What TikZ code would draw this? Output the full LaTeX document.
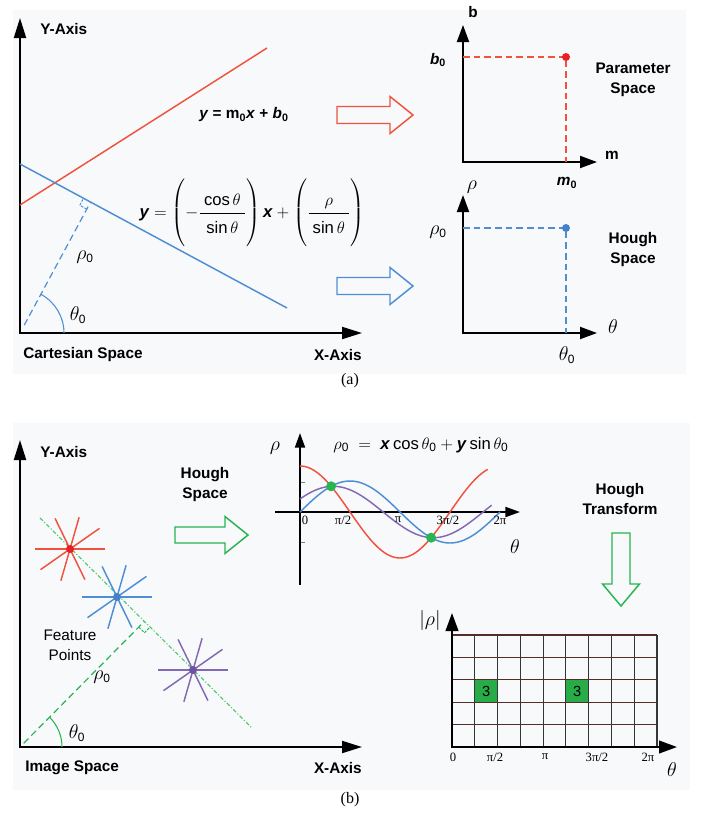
\RequirePackage{fix-cm}
\documentclass[tikz,border=0pt]{standalone}
\usepackage{amsmath}
\usepackage{fontspec}
\setmainfont{Liberation Sans}
\newfontfamily\serifont{Liberation Serif}
\usetikzlibrary{arrows.meta,calc}
\definecolor{cred}{RGB}{240,82,62}
\definecolor{cdotred}{RGB}{232,32,36}
\definecolor{cblue}{RGB}{78,142,212}
\definecolor{cdotblue}{RGB}{70,128,200}
\definecolor{cgreen}{RGB}{40,180,80}
\definecolor{cdash}{RGB}{70,200,100}
\definecolor{cpurple}{RGB}{130,105,180}
\definecolor{cdotpurple}{RGB}{112,82,160}
\definecolor{panel}{RGB}{248,249,251}
\definecolor{cellgreen}{RGB}{40,172,72}
\definecolor{gridh}{RGB}{85,45,40}
\definecolor{gridv}{RGB}{50,55,55}
\newcommand\zs{\mbox{\fontsize{9}{10}\selectfont 0}}
\newcommand\fr[2]{\dfrac{\hspace{3pt}\vrule height 0pt depth 3pt width 0pt #1\hspace{3pt}}{\hspace{3pt}\vrule height 14pt depth 0pt width 0pt #2\hspace{3pt}}}
\newcommand\featstar[3]{%
  \foreach \a/\l in {0/35,35/36,74/33,116/34}
    \draw[#2, line width=1.1pt] ($(#1)+(-\a:\l)$) -- ($(#1)+(180-\a:\l)$);
  \fill[#3] (#1) circle[radius=4];}
\begin{document}
\begin{tikzpicture}[x=0.75pt,y=-0.75pt,
  axes/.style args={#1/#2}{line width=1.5pt,line join=miter,
     {Triangle[length=#1,width=#2]}-{Triangle[length=#1,width=#2]}},
  lbl/.style={font=\fontsize{11.5}{14}\selectfont\bfseries, inner sep=0pt, align=center},
  reg/.style={font=\fontsize{11.5}{14}\selectfont, inner sep=0pt, align=center},
  greek/.style={font=\fontsize{15}{17}\selectfont, inner sep=0pt},
  tick/.style={font=\serifont\fontsize{9.5}{11}\selectfont, inner sep=0pt},
  curve/.style={line width=1.1pt},
  hollow/.style={line width=1.1pt, line join=miter},
  dsh/.style={line width=0.9pt, dash pattern=on 5pt off 3pt}]
\useasboundingbox (0,0) rectangle (701,825);
\fill[white] (0,0) rectangle (701,825);
% panels
\fill[panel] (13,10) rectangle (686,374);
\fill[panel] (13,423) rectangle (690,790);

% ================= (a) Cartesian space =================
\coordinate (O1) at (20,333);
\coordinate (Y1) at (20,18);
\coordinate (X1) at (362,333);
\draw[axes=15pt/9pt] (Y1) -- (O1) -- (X1);
\node[lbl, anchor=west] (ya1) at (40,29) {Y-Axis};
\node[lbl, anchor=west] (cs) at (23,355) {Cartesian Space};
\node[lbl, anchor=east] (xa1) at (362,355) {X-Axis};
\coordinate (R1) at (20,205);
\coordinate (R2) at (267,48);
\draw[cred, curve] (R1) -- (R2);
\coordinate (B1) at (20,164);
\coordinate (B2) at (287,308);
\draw[cblue, curve] (B1) -- (B2);
\coordinate (F1) at ($(B1)!(O1)!(B2)$);
\draw[cblue, dsh] ($(O1)!0.06!(F1)$) -- (F1);
\coordinate (ra1) at ($(F1)!6pt!(O1)$);
\coordinate (ra2) at ($(F1)!6pt!(B1)$);
\coordinate (ra3) at ($(ra1)+(ra2)-(F1)$);
\draw[cblue, line width=0.7pt, dash pattern=on 2pt off 1pt] (ra1) -- (ra3) -- (ra2);
\draw[cblue, line width=0.8pt] let \p1=($(F1)-(O1)$), \n1={atan2(\y1,\x1)} in
  ($(O1)+(44,0)$) arc[start angle=0, end angle=-\n1, radius=44];
\node[greek] (th1) at (78,315) {$\theta_{\zs}$};
\node[greek] (rh1) at (85,257) {$\rho_{\zs}$};
\node[font=\fontsize{11.5}{14}\selectfont\bfseries, inner sep=0pt] (eqa) at (244,115)
  {\textit{y} = m\textsubscript{0}\textit{x} + \textit{b}\textsubscript{0}};
\node[font=\fontsize{12.5}{14}\selectfont, inner sep=0pt] (eqb) at (252,213)
  {$\textbf{\textit{y}} = \left(\vrule height 29pt depth 23pt width 0pt -\fr{\mbox{cos}\,\theta}{\mbox{sin}\,\theta}\right)\textbf{\textit{x}}+\left(\vrule height 29pt depth 23pt width 0pt \fr{\rho}{\mbox{sin}\,\theta}\right)$};

% hollow arrows (a)
\draw[cred, hollow] (337,115) ++(0,-8.5) -- ++(53,0) -- ++(0,-10) -- ++(23,18.5)
  -- ++(-23,18.5) -- ++(0,-10) -- ++(-53,0) -- cycle;
\draw[cblue, hollow] (337,286) ++(0,-8.5) -- ++(53,0) -- ++(0,-10) -- ++(23,18.5)
  -- ++(-23,18.5) -- ++(0,-10) -- ++(-53,0) -- cycle;

% Parameter space
\coordinate (O2) at (463,162);
\draw[axes=12.75pt/9pt] (463,25) -- (O2) -- (597,162);
\coordinate (P2) at (566,57);
\draw[cred, dsh] (463,57) -- (P2) -- (566,162);
\fill[cdotred] (P2) circle[radius=4];
\node[lbl] (bl) at (473,12) {b};
\node[lbl] (b0) at (438,60) {\textit{b}\textsubscript{0}};
\node[lbl] (ml) at (612,155) {m};
\node[lbl] (m0) at (567,183) {\textit{m}\textsubscript{0}};
\node[lbl] (ps) at (633,80) {Parameter\\[1pt]Space};

% Hough space (a)
\coordinate (O4) at (463,333);
\draw[axes=12.75pt/9pt] (463,195) -- (O4) -- (597,333);
\coordinate (P4) at (566,228);
\draw[cblue, dsh] (463,228) -- (P4) -- (566,333);
\fill[cdotblue] (P4) circle[radius=4];
\node[greek] (rl) at (472,187) {$\rho$};
\node[greek] (r0) at (438,232) {$\rho_{\zs}$};
\node[greek] (tl) at (613,327) {$\theta$};
\node[greek] (t0) at (567,355) {$\theta_{\zs}$};
\node[lbl] (hs) at (633,250) {Hough\\[1pt]Space};

\node[font=\serifont\fontsize{12}{14}\selectfont, inner sep=0pt] (capa) at (350,381) {(a)};

% ================= (b) Image space =================
\coordinate (O5) at (20,747);
\draw[axes=15pt/9pt] (20,440) -- (O5) -- (362,747);
\node[lbl, anchor=west] (ya2) at (40,452) {Y-Axis};
\node[lbl, anchor=west] (is) at (25,768) {Image Space};
\node[lbl, anchor=east] (xa2) at (362,768) {X-Axis};
\coordinate (L1) at (40,518);
\coordinate (L2) at (252,728);
\draw[cdash, line width=0.8pt, dash pattern=on 3pt off 1.5pt on 0.8pt off 1.5pt] (L1) -- (L2);
\coordinate (F5) at ($(L1)!(O5)!(L2)$);
\draw[cgreen, dsh] ($(O5)!0.03!(F5)$) -- (F5);
\coordinate (rb1) at ($(F5)!6pt!(O5)$);
\coordinate (rb2) at ($(F5)!6pt!(L2)$);
\coordinate (rb3) at ($(rb1)+(rb2)-(F5)$);
\draw[cgreen, line width=0.7pt, dash pattern=on 2pt off 1pt] (rb1) -- (rb3) -- (rb2);
\draw[cgreen, line width=0.8pt] let \p1=($(F5)-(O5)$), \n1={atan2(\y1,\x1)} in
  ($(O5)+(42,0)$) arc[start angle=0, end angle=-\n1, radius=42];
\node[greek] (th2) at (77,733) {$\theta_{\zs}$};
\node[greek] (rh2) at (102,677) {$\rho_{\zs}$};
\node[reg] (fp) at (70,645) {Feature\\[1pt]Points};
\coordinate (S1) at (70,549);
\coordinate (S2) at (117,597);
\coordinate (S3) at (193,670);
\featstar{S1}{cred}{cdotred}
\featstar{S2}{cblue}{cdotblue}
\featstar{S3}{cpurple}{cdotpurple}

\node[lbl] (hs2) at (205,485) {Hough\\[1pt]Space};
\draw[cgreen, hollow] (175,535) ++(0,-8) -- ++(50,0) -- ++(0,-10.5) -- ++(23,18.5)
  -- ++(-23,18.5) -- ++(0,-10.5) -- ++(-50,0) -- cycle;

% middle sinusoid plot
\coordinate (O6) at (300,512);
\draw[line width=1.5pt, {Triangle[length=11pt,width=7.5pt]}-] (300,433) -- (300,585);
\draw[line width=1.5pt, -{Triangle[length=11pt,width=7.5pt]}] (275,512) -- (520,512);
\draw[gray, line width=0.6pt] (301,482) -- (305,482) (301,542) -- (305,542);
\draw[cred, curve] plot[domain=0:338, samples=90, smooth] ({300+\x/1.8},{512-46*cos(\x)});
\draw[cblue, curve] plot[domain=0:360, samples=90, smooth] ({300+\x/1.8},{512-31*sin(\x)});
\draw[cpurple, curve] plot[domain=0:345, samples=90, smooth] ({300+\x/1.8},{512-13*cos(\x)-22.2*sin(\x)});
\fill[cgreen] (331.1,486.3) circle[radius=5];
\fill[cgreen] (431.1,537.7) circle[radius=5];
\node[greek] (rl6) at (275,448) {$\rho$};
\node[greek] (tl6) at (515,547) {$\theta$};
\node[tick] (t60) at (305,520) {0};
\node[tick] (t61) at (343,520) {π/2};
\node[tick] (t62) at (398,520) {π};
\node[tick] (t63) at (448,520) {3π/2};
\node[tick] (t64) at (500,520) {2π};
\node[font=\fontsize{12.5}{14}\selectfont, inner sep=0pt] (eqc) at (421,445)
  {$\rho_{\zs}\;=\;\textbf{\textit{x}}\,\mbox{cos}\,\theta_{\zs}+\textbf{\textit{y}}\,\mbox{sin}\,\theta_{\zs}$};

% Hough transform arrow
\node[lbl] (ht) at (620,499) {Hough\\[1pt]Transform};
\draw[cgreen, hollow] (621,533) ++(-9,0) -- ++(18,0) -- ++(0,51) -- ++(9.5,0)
  -- ++(-18.5,22) -- ++(-18.5,-22) -- ++(9.5,0) -- cycle;

% accumulator grid
\fill[cellgreen] ({452+205/9},{635+2*22.4}) rectangle ({452+2*205/9},{635+3*22.4});
\fill[cellgreen] ({452+5*205/9},{635+2*22.4}) rectangle ({452+6*205/9},{635+3*22.4});
\node[reg, font=\fontsize{11}{12}\selectfont] (c1) at ({452+1.5*205/9},{635+2.5*22.4}) {3};
\node[reg, font=\fontsize{11}{12}\selectfont] (c2) at ({452+5.5*205/9},{635+2.5*22.4}) {3};
\foreach \i in {1,...,9}
  \draw[gridv, line width=0.9pt] ({452+\i*205/9},635) -- ({452+\i*205/9},747);
\foreach \j in {0,...,4}
  \draw[gridh, line width=0.9pt] (452,{635+\j*22.4}) -- (657,{635+\j*22.4});
\draw[axes=13.5pt/9.5pt] (452,613) -- (452,747) -- (677,747);
\node[greek] (rg) at (430,620) {$|\rho|$};
\node[greek] (tg) at (672,770) {$\theta$};
\node[tick] (g0) at (453,757) {0};
\node[tick] (g1) at (495,757) {π/2};
\node[tick] (g2) at (545,757) {π};
\node[tick] (g3) at (597,757) {3π/2};
\node[tick] (g4) at (648,757) {2π};

\node[font=\serifont\fontsize{12}{14}\selectfont, inner sep=0pt] (capb) at (350,800) {(b)};
\end{tikzpicture}
\end{document}
